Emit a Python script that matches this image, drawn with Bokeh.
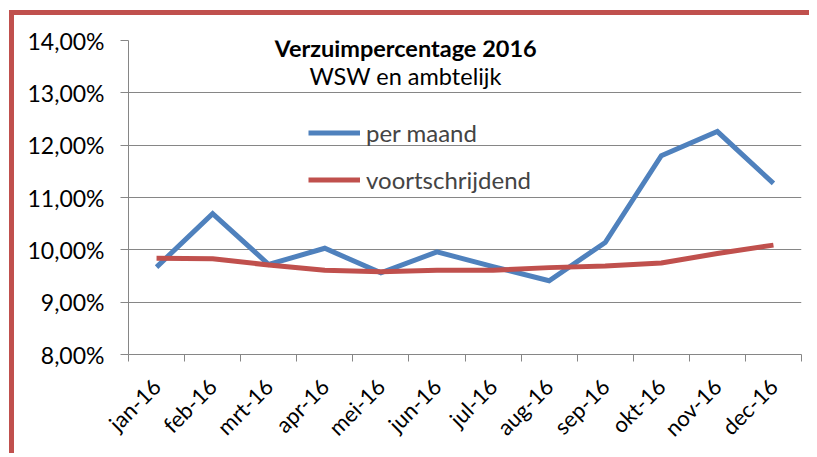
from bokeh.plotting import figure
from bokeh.models import (FixedTicker, CustomJSTickFormatter, Legend, LegendItem,
                          Label, Range1d, ColumnDataSource)
from bokeh.embed import file_html
from bokeh.resources import INLINE
import math

months = ["jan-16", "feb-16", "mrt-16", "apr-16", "mei-16", "jun-16",
          "jul-16", "aug-16", "sep-16", "okt-16", "nov-16", "dec-16"]
per_maand = [9.67, 10.69, 9.72, 10.03, 9.56, 9.96, 9.68, 9.41, 10.14, 11.80, 12.26, 11.27]
voortschrijdend = [9.84, 9.83, 9.71, 9.61, 9.58, 9.61, 9.61, 9.66, 9.69, 9.75, 9.93, 10.09]
y_ticks = [8, 9, 10, 11, 12, 13, 14]
title_text = "Verzuimpercentage 2016"
subtitle_text = "WSW en ambtelijk"

FONT = "Lato"
GRAY = "#868686"
BLUE = "#4f81bd"
RED = "#c0504d"

xs = [i + 0.5 for i in range(len(months))]
src = ColumnDataSource(dict(x=xs, pm=per_maand, vs=voortschrijdend))

p = figure(frame_width=673, frame_height=314, output_backend="svg", toolbar_location=None,
           x_range=Range1d(0, len(months)), y_range=Range1d(y_ticks[0], y_ticks[-1]),
           min_border_left=114, min_border_right=8, min_border_top=25, min_border_bottom=90)
p.outline_line_color = None
p.background_fill_color = "white"
p.border_fill_color = "white"
p.styles = {"border-left": f"5px solid {RED}", "border-top": f"5px solid {RED}",
            "margin-left": "9px", "margin-top": "10px"}

r1 = p.line("x", "pm", source=src, line_color=BLUE, line_width=5, line_join="miter")
r2 = p.line("x", "vs", source=src, line_color=RED, line_width=5, line_join="round")

# y axis
p.yaxis.ticker = FixedTicker(ticks=y_ticks, minor_ticks=[])
p.yaxis.formatter = CustomJSTickFormatter(code="return tick.toFixed(2).replace('.', ',') + '%';")
p.yaxis.axis_line_color = GRAY
p.yaxis.major_tick_line_color = GRAY
p.yaxis.major_tick_out = 8
p.yaxis.major_tick_in = 0
p.yaxis.major_label_standoff = 16
p.yaxis.major_label_text_font = FONT
p.yaxis.major_label_text_font_size = "23px"
p.yaxis.major_label_text_color = "black"

# x axis
p.xaxis.ticker = FixedTicker(ticks=xs, minor_ticks=list(range(len(months) + 1)))
p.xaxis.major_label_overrides = {x: m for x, m in zip(xs, months)}
p.xaxis.major_label_orientation = math.pi / 4
p.xaxis.axis_line_color = GRAY
p.xaxis.major_tick_line_color = None
p.xaxis.minor_tick_line_color = GRAY
p.xaxis.minor_tick_out = 7
p.xaxis.minor_tick_in = 0
p.xaxis.major_label_standoff = 21
p.xaxis.major_label_text_font = FONT
p.xaxis.major_label_text_font_size = "22px"
p.xaxis.major_label_text_color = "black"

p.xgrid.grid_line_color = None
p.ygrid.grid_line_color = GRAY
p.ygrid.grid_line_width = 1

# titles
p.add_layout(Label(x=4.94, y=13.85, text=title_text, text_align="center",
                   text_baseline="alphabetic", text_font=FONT, text_font_style="bold",
                   text_font_size="23.5px", text_color="black"))
p.add_layout(Label(x=4.94, y=13.33, text=subtitle_text, text_align="center",
                   text_baseline="alphabetic", text_font=FONT,
                   text_font_size="23.5px", text_color="black"))

legend = Legend(items=[LegendItem(label="per maand", renderers=[r1]),
                       LegendItem(label="voortschrijdend", renderers=[r2])],
                location=(180, 160), orientation="vertical",
                glyph_width=52, glyph_height=29, label_height=29, spacing=18,
                padding=0, margin=0, label_standoff=6,
                label_text_font=FONT, label_text_font_size="24px",
                border_line_color=None, background_fill_alpha=0)
p.add_layout(legend, "center")

open("out.html", "w").write(file_html(p, INLINE))
